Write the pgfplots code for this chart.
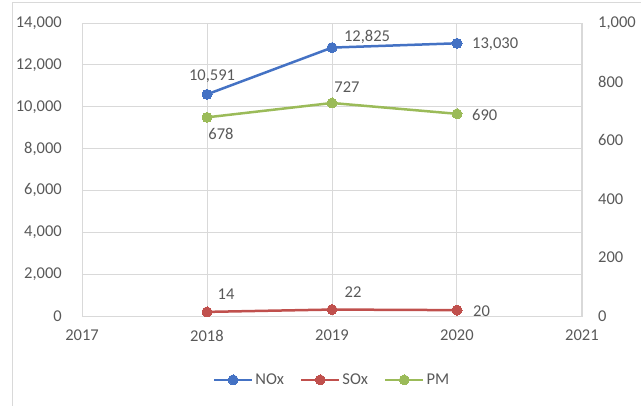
\documentclass[border=0pt]{standalone}
\usepackage{pgfplots}
\pgfplotsset{compat=1.18}
\usepackage{fontspec}
\setmainfont{Carlito}
\definecolor{nox}{HTML}{4472C4}
\definecolor{sox}{HTML}{C0504D}
\definecolor{pm}{HTML}{9BBB59}
\definecolor{txt}{HTML}{595959}
\definecolor{grd}{HTML}{D9D9D9}
\tikzset{lbl/.style={font=\fontsize{16.5}{19}\selectfont, text=txt, inner sep=0pt},
  ser/.style={line width=2.5pt, mark=*, mark size=5pt, mark options={solid, fill=#1, draw=#1, line width=0pt}, color=#1}}
\begin{document}
\begin{tikzpicture}[x=1pt,y=1pt]
\useasboundingbox (0,0) rectangle (641,405);
\draw[grd, line width=1pt] (12,-10) -- (12,402) -- (660,402);
\pgfplotsset{
  every axis/.append style={
    scale only axis, width=500pt, height=293pt,
    at={(82pt,89pt)}, anchor=south west,
    xmin=2017, xmax=2021,
    tick label style={font=\fontsize{16.5}{19}\selectfont, text=txt},
    major tick length=0pt,
    scaled y ticks=false,
    /pgf/number format/assume math mode=true,
  },
}
\begin{axis}[
  ymin=0, ymax=14000, ytick={0,2000,...,14000},
  xtick={2017,...,2021},
  ytick pos=left, xtick pos=bottom,
  grid=major, grid style={grd, line width=0.9pt},
  axis line style={grd, line width=0.9pt},
  yticklabel style={/pgf/number format/1000 sep={,}, anchor=east, inner sep=0pt, xshift=-20pt},
  xticklabel style={/pgf/number format/1000 sep={}, anchor=north, inner sep=0pt, yshift=-14pt},
]
\addplot[ser=nox] coordinates {(2018,10591) (2019,12825) (2020,13030)};
\node[lbl, xshift=5pt, yshift=18pt] at (axis cs:2018,10591) {10,591};
\node[lbl, xshift=35pt, yshift=11pt] at (axis cs:2019,12825) {12,825};
\node[lbl, anchor=west, xshift=15pt, yshift=-1pt] at (axis cs:2020,13030) {13,030};
\end{axis}
\begin{axis}[
  ymin=0, ymax=1000, ytick={0,200,...,1000},
  axis y line*=right, hide x axis,
  axis line style={draw=none},
  yticklabel style={/pgf/number format/1000 sep={,}, anchor=west, inner sep=0pt, xshift=16pt},
  legend style={at={(0.5,-0.218)}, anchor=center, draw=none, fill=none,
    font=\fontsize{16.5}{19}\selectfont, text=txt, legend columns=3,
    /tikz/every even column/.append style={column sep=14pt}},
  legend image code/.code={\draw[mark repeat=2,mark phase=2] plot coordinates {(0pt,0pt) (19pt,0pt) (38pt,0pt)};},
]
\addlegendimage{ser=nox}
\addlegendentry{NOx}
\addplot[ser=sox] coordinates {(2018,14) (2019,22) (2020,20)};
\addlegendentry{SOx}
\addplot[ser=pm] coordinates {(2018,678) (2019,727) (2020,690)};
\addlegendentry{PM}
\node[lbl, xshift=14pt, yshift=-17pt] at (axis cs:2018,678) {678};
\node[lbl, xshift=15pt, yshift=16pt] at (axis cs:2019,727) {727};
\node[lbl, anchor=west, xshift=15pt, yshift=-1pt] at (axis cs:2020,690) {690};
\node[lbl, xshift=19pt, yshift=18pt] at (axis cs:2018,14) {14};
\node[lbl, xshift=21pt, yshift=17pt] at (axis cs:2019,22) {22};
\node[lbl, anchor=west, xshift=16pt, yshift=-1pt] at (axis cs:2020,20) {20};
\end{axis}
\end{tikzpicture}
\end{document}
